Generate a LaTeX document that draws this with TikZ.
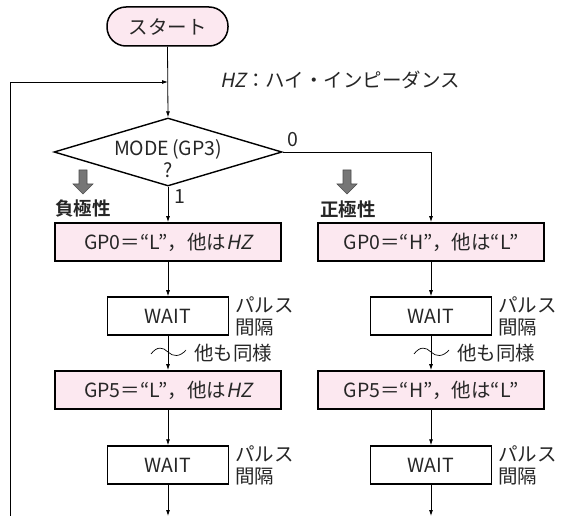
\documentclass[tikz,border=0pt]{standalone}
\usepackage{fontspec}
\setmainfont{Noto Sans CJK JP}[ItalicFont={Noto Sans CJK JP}, ItalicFeatures={FakeSlant=0.2}, BoldFont={Noto Sans CJK JP Bold}]
\usetikzlibrary{shapes.geometric, arrows.meta}
\definecolor{boxpink}{RGB}{252,232,240}
\definecolor{arrgray}{RGB}{118,118,118}
\tikzset{
  flow/.style={draw, line width=0.8pt, -{Latex[length=6pt,width=4pt]}},
  plain/.style={draw, line width=0.8pt},
  procbox/.style={draw, line width=1.8pt, fill=boxpink, minimum width=226pt, minimum height=38pt, inner sep=0pt},
  waitbox/.style={draw, line width=1.5pt, fill=white, minimum width=121pt, minimum height=38pt, inner sep=0pt},
  startbox/.style={draw, line width=1.5pt, fill=boxpink, rounded corners=19pt, minimum width=121pt, minimum height=39pt, inner sep=0pt},
  decision/.style={draw, diamond, line width=1.4pt, minimum width=228pt, minimum height=68pt, inner sep=0pt, aspect=3.35},
  lbl/.style={inner sep=0pt, align=left},
  polarity/.style={inner sep=0pt, font=\fontsize{18.5}{22}\selectfont\bfseries},
  blockarrow/.style={fill=arrgray, draw=black!70, line width=0.6pt},
}
\begin{document}
\begin{tikzpicture}[x=1pt, y=-1pt, font=\fontsize{19.5}{22}\selectfont, text=black!85]
\useasboundingbox (0,0) rectangle (563,516);

% main nodes
\node[startbox] (start) at (167.5,26.5) {スタート};
\node[decision] (d) at (168,152) {};
\node[lbl, align=center] (dtxt) at (168,159) {MODE\hspace{3pt}(GP3)\\?};

\node[procbox] (l1) at (168,242) {GP0＝“L”，他は\textit{HZ}};
\node[waitbox] (w1) at (168,316) {WAIT};
\node[procbox] (l2) at (168,390) {GP5＝“L”，他は\textit{HZ}};
\node[waitbox] (w2) at (168,465) {WAIT};

\node[procbox] (r1) at (431,242) {GP0＝“H”，他は“L”};
\node[waitbox] (rw1) at (431,316) {WAIT};
\node[procbox] (r2) at (431,390) {GP5＝“H”，他は“L”};
\node[waitbox] (rw2) at (431,465) {WAIT};

% labels
\node[lbl, anchor=west] (hz) at (220,80) {\textit{HZ}：ハイ・インピーダンス};
\node[lbl] (zero) at (293,140) {0};
\node[lbl] (one) at (180,197) {1};
\node[polarity, anchor=west] (neg) at (55,209) {負極性};
\node[polarity, anchor=west] (pos) at (320,209) {正極性};

\node[lbl, anchor=west] (pl1) at (235,316) {パルス\\間隔};
\node[lbl, anchor=west] (pl2) at (235,465) {パルス\\間隔};
\node[lbl, anchor=west] (pr1) at (498,316) {パルス\\間隔};
\node[lbl, anchor=west] (pr2) at (498,465) {パルス\\間隔};
\node[lbl, anchor=west] (sl) at (194,353) {他も同様};
\node[lbl, anchor=west] (sr) at (457,353) {他も同様};

% block arrows
\draw[blockarrow] (79,170) -- (87,170) -- (87,184) -- (93,184) -- (83,194) -- (73,184) -- (79,184) -- cycle;
\draw[blockarrow] (343,170) -- (351,170) -- (351,184) -- (357,184) -- (347,194) -- (337,184) -- (343,184) -- cycle;

% free ends
\coordinate (lt) at (10,82);
\coordinate (lb) at (10,516);
\coordinate (join) at (168,82);
\coordinate (endl) at (168,516);
\coordinate (endr) at (431,516);
\coordinate (rturn) at (431,152);

% connectors
\draw[flow] (start.south) -- (d.north);
\draw[flow] (lb) -- (lt) -- (join);
\draw[flow] (d.south) -- (l1.north);
\draw[flow] (d.east) -- (rturn) -- (r1.north);
\draw[flow] (l1.south) -- (w1.north);
\draw[flow] (w1.south) -- (l2.north);
\draw[flow] (l2.south) -- (w2.north);
\draw[flow] (w2.south) -- (endl);
\draw[flow] (r1.south) -- (rw1.north);
\draw[flow] (rw1.south) -- (r2.north);
\draw[flow] (r2.south) -- (rw2.north);
\draw[flow] (rw2.south) -- (endr);

% tildes
\draw[plain, line width=0.7pt] (151,354) .. controls (157,346) and (163,347) .. (168,352) .. controls (173,357) and (180,357) .. (186,350);
\draw[plain, line width=0.7pt] (414,354) .. controls (420,346) and (426,347) .. (431,352) .. controls (436,357) and (443,357) .. (449,350);
\end{tikzpicture}
\end{document}
